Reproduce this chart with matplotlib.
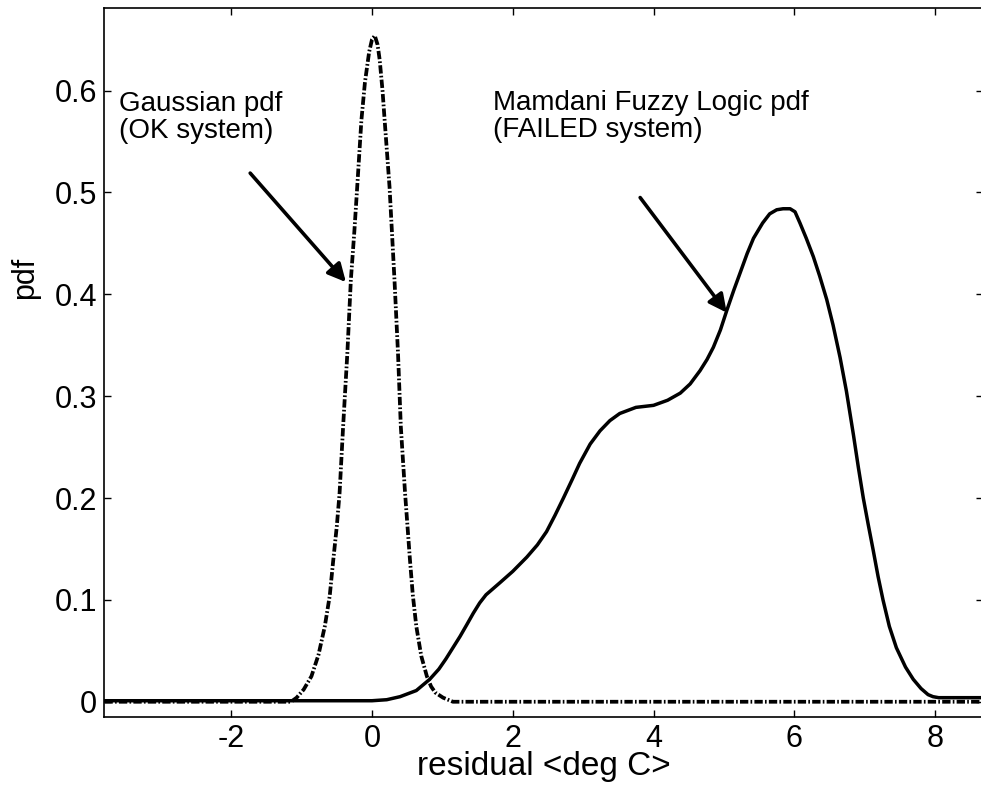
import matplotlib
matplotlib.use('Agg')
import matplotlib.pyplot as plt
import numpy as np

plt.rcParams['font.family'] = ['Liberation Sans', 'DejaVu Sans']
plt.rcParams['lines.scale_dashes'] = False

# Gaussian pdf (OK system)
gauss_x = [-3.8, -1.15, -1.07, -0.97, -0.86, -0.76, -0.67, -0.60, -0.55, -0.50,
           -0.46, -0.41, -0.35, -0.30, -0.25, -0.21, -0.15, -0.10, -0.04, 0.00,
           0.04, 0.08, 0.11, 0.15, 0.18, 0.25, 0.32, 0.37, 0.41, 0.47,
           0.54, 0.58, 0.63, 0.70, 0.78, 0.84, 0.90, 1.01, 1.15, 8.7]
gauss_y = [0.0, 0.0, 0.004, 0.012, 0.025, 0.046, 0.074, 0.104, 0.139, 0.172,
           0.205, 0.270, 0.342, 0.414, 0.462, 0.505, 0.571, 0.608, 0.638, 0.650,
           0.654, 0.645, 0.630, 0.600, 0.571, 0.505, 0.414, 0.342, 0.270, 0.205,
           0.139, 0.105, 0.074, 0.045, 0.025, 0.015, 0.009, 0.004, 0.0, 0.0]

# Mamdani fuzzy logic pdf (FAILED system)
fuzzy_x = [-3.8, 0.0, 0.21, 0.40, 0.63, 0.82, 0.95, 1.05, 1.15, 1.25,
           1.35, 1.44, 1.53, 1.62, 1.72, 1.82, 2.00, 2.20, 2.35, 2.48,
           2.60, 2.72, 2.85, 2.95, 3.10, 3.24, 3.38, 3.52, 3.75, 4.00,
           4.20, 4.38, 4.52, 4.66, 4.76, 4.85, 4.95, 5.04, 5.14, 5.23,
           5.33, 5.42, 5.55, 5.65, 5.75, 5.84, 5.94, 6.01, 6.08, 6.17,
           6.27, 6.36, 6.46, 6.55, 6.65, 6.74, 6.84, 6.91, 6.98, 7.05,
           7.12, 7.19, 7.26, 7.35, 7.45, 7.58, 7.69, 7.80, 7.90, 7.97,
           8.05, 8.7]
fuzzy_y = [0.001, 0.001, 0.002, 0.005, 0.011, 0.022, 0.032, 0.042, 0.053, 0.064,
           0.076, 0.087, 0.097, 0.105, 0.111, 0.117, 0.128, 0.142, 0.154, 0.167,
           0.183, 0.200, 0.219, 0.234, 0.253, 0.266, 0.276, 0.283, 0.289, 0.291,
           0.296, 0.303, 0.312, 0.325, 0.336, 0.348, 0.365, 0.384, 0.404, 0.421,
           0.440, 0.455, 0.470, 0.479, 0.483, 0.484, 0.484, 0.481, 0.470, 0.455,
           0.437, 0.418, 0.395, 0.370, 0.338, 0.305, 0.262, 0.230, 0.200, 0.174,
           0.149, 0.123, 0.100, 0.074, 0.053, 0.034, 0.022, 0.013, 0.007, 0.005,
           0.004, 0.004]

xticks = [-2, 0, 2, 4, 6, 8]
yticks = [0, 0.1, 0.2, 0.3, 0.4, 0.5, 0.6]
ytick_labels = ['0', '0.1', '0.2', '0.3', '0.4', '0.5', '0.6']

fig = plt.figure(figsize=(9.81, 7.93), dpi=100)
ax = fig.add_axes([0.106, 0.0958, 0.896, 0.894])

ax.plot(gauss_x, gauss_y, color='k', lw=2.7, dashes=(6, 1.6, 1.2, 1.6))
ax.plot(fuzzy_x, fuzzy_y, color='k', lw=2.5, solid_joinstyle='round')

ax.set_xlim(-3.807, 8.68)
ax.set_ylim(-0.015, 0.681)
ax.set_xticks(xticks)
ax.set_xticklabels([str(t) for t in xticks])
ax.set_yticks(yticks)
ax.set_yticklabels(ytick_labels)
ax.tick_params(direction='in', length=5, width=1, top=True, right=True,
               labelsize=22, pad=5, colors='k')
for s in ax.spines.values():
    s.set_linewidth(1.2)

ax.set_xlabel('residual <deg C>', fontsize=24, labelpad=-2)
ax.set_ylabel('pdf', fontsize=22)
ax.yaxis.set_label_coords(-0.073, 0.62)

arrow = dict(arrowstyle='-|>', color='k', lw=2.6, mutation_scale=27, shrinkA=0, shrinkB=0)
ax.annotate('', xy=(-0.37, 0.412), xytext=(-1.73, 0.519), arrowprops=arrow)
ax.annotate('', xy=(5.04, 0.382), xytext=(3.81, 0.495), arrowprops=arrow)

ax.text(-3.6, 0.574, 'Gaussian pdf\n(OK system)', fontsize=20, va='center',
        ha='left', linespacing=1.05)
ax.text(1.72, 0.575, 'Mamdani Fuzzy Logic pdf\n(FAILED system)', fontsize=20,
        va='center', ha='left', linespacing=1.05)

fig.savefig('out.png', dpi=100)
